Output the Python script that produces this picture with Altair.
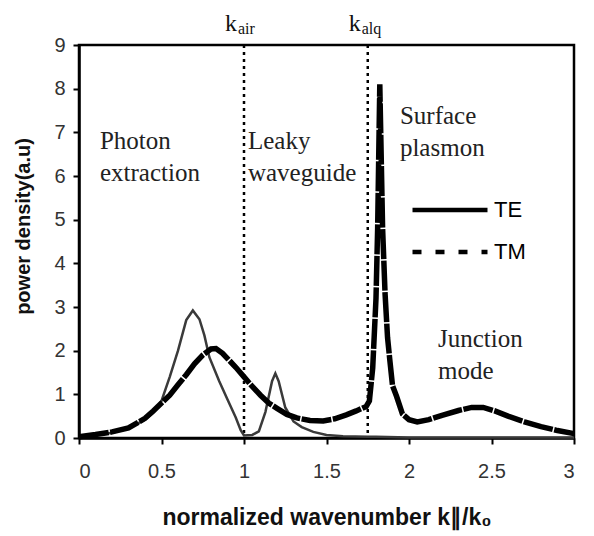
import altair as alt
import pandas as pd

# TE curve (thin solid)
te_x = [0.00, 0.10, 0.20, 0.30, 0.40, 0.45, 0.50, 0.55, 0.60, 0.65, 0.69, 0.73, 0.76, 0.79,
        0.85, 0.90, 0.95, 0.98, 1.00, 1.05, 1.09, 1.13, 1.17, 1.19, 1.21, 1.25, 1.30, 1.35,
        1.42, 1.50, 1.60, 1.75, 1.80, 2.00, 2.50, 3.00]
te_y = [0.02, 0.06, 0.12, 0.22, 0.42, 0.58, 0.85, 1.40, 2.00, 2.70, 2.92, 2.72, 2.35, 1.85,
        1.30, 0.88, 0.47, 0.18, 0.06, 0.07, 0.15, 0.60, 1.30, 1.48, 1.30, 0.70, 0.38, 0.25,
        0.14, 0.07, 0.04, 0.03, 0.03, 0.01, 0.01, 0.01]

# TM curve (thick dashed)
tm_x = [0.00, 0.10, 0.20, 0.30, 0.40, 0.45, 0.50, 0.55, 0.60, 0.65, 0.70, 0.75, 0.80, 0.83,
        0.87, 0.90, 0.95, 1.00, 1.05, 1.10, 1.15, 1.20, 1.26, 1.32, 1.40, 1.48, 1.55, 1.62,
        1.68, 1.74, 1.76, 1.78, 1.80, 1.81, 1.823, 1.84, 1.855, 1.87, 1.885, 1.90, 1.925,
        1.96, 2.00, 2.05, 2.12, 2.20, 2.30, 2.38, 2.45, 2.52, 2.60, 2.70, 2.80, 2.90, 3.00]
tm_y = [0.03, 0.08, 0.14, 0.23, 0.45, 0.62, 0.80, 0.98, 1.22, 1.45, 1.70, 1.90, 2.04, 2.05,
        1.94, 1.82, 1.62, 1.40, 1.18, 0.98, 0.80, 0.68, 0.54, 0.46, 0.40, 0.39, 0.44, 0.53,
        0.62, 0.72, 0.85, 1.60, 3.20, 4.80, 8.10, 4.80, 3.30, 2.30, 1.74, 1.20, 0.95,
        0.55, 0.42, 0.37, 0.42, 0.52, 0.63, 0.70, 0.70, 0.62, 0.50, 0.37, 0.26, 0.17, 0.10]

series_names = ["TE", "TM"]

# vertical reference lines
kline_x = [1.0, 1.75]
kline_sub = ["air", "alq"]
y_top = 9

# region annotations
ann_text = ["Photon\nextraction", "Leaky\nwaveguide", "Surface\nplasmon", "Junction\nmode"]
ann_x = [0.127, 1.024, 1.945, 2.176]
ann_y = [6.62, 6.62, 7.19, 2.08]

x_ticks = [0, 0.5, 1, 1.5, 2, 2.5, 3]
y_ticks = [0, 1, 2, 3, 4, 5, 6, 7, 8, 9]

te_df = pd.DataFrame({"k": te_x, "p": te_y, "series": "TE"})
tm_df = pd.DataFrame({"k": tm_x, "p": tm_y, "series": "TM"})
all_df = pd.concat([te_df, tm_df], ignore_index=True)
kl_df = pd.DataFrame({"k": kline_x, "sub": kline_sub, "top": y_top})
ann_df = pd.DataFrame({"text": ann_text, "k": ann_x, "p": ann_y})

xs = alt.Scale(domain=[0, 3], nice=False, zero=False)
ys = alt.Scale(domain=[0, 9], nice=False)

x_enc = alt.X("k:Q", scale=xs, axis=alt.Axis(
    values=x_ticks, format="~g", title="normalized wavenumber k\u2225/k\u2080",
    titleY=86, titleBaseline="alphabetic", grid=False))
y_enc = alt.Y("p:Q", scale=ys, axis=alt.Axis(
    values=y_ticks, title="power density(a.u)", titleX=-50, titleY=181,
    titleBaseline="alphabetic", grid=False))

te_line = alt.Chart(te_df).mark_line(color="#3a3a3a", strokeWidth=2.5).encode(x=x_enc, y=y_enc)
tm_line = alt.Chart(tm_df).mark_line(color="black", strokeWidth=5.5, strokeDash=[30, 1.5]).encode(x="k:Q", y="p:Q")

legend_layer = alt.Chart(all_df).transform_filter("false").mark_line(
    color="black", strokeWidth=4.5).encode(
    x="k:Q", y="p:Q",
    strokeDash=alt.StrokeDash("series:N", scale=alt.Scale(domain=series_names, range=[[1, 0], [9, 14]]),
                              legend=alt.Legend(title=None, orient="none", legendX=331, legendY=146,
                                                symbolType="stroke", symbolSize=5625,
                                                symbolStrokeWidth=4.5, symbolStrokeColor="black",
                                                labelFontSize=22, labelFont="Liberation Sans",
                                                labelColor="black", labelOffset=4,
                                                clipHeight=38, rowPadding=4)))

klines = alt.Chart(kl_df).mark_rule(color="black", strokeWidth=2.5, strokeDash=[3, 4]).encode(x="k:Q")

k_main = alt.Chart(kl_df).mark_text(text="k", font="Liberation Serif", fontSize=24, align="right",
                                    baseline="alphabetic", dx=-7, dy=-14, color="#111").encode(
    x="k:Q", y="top:Q")
k_sub = alt.Chart(kl_df).mark_text(font="Liberation Serif", fontSize=16, align="left",
                                   baseline="alphabetic", dx=-6, dy=-11, color="#111").encode(
    x="k:Q", y="top:Q", text="sub:N")

ann = alt.Chart(ann_df).mark_text(font="Liberation Serif", fontSize=25, align="left",
                                  baseline="alphabetic", lineBreak="\n", lineHeight=32,
                                  color="#222").encode(x="k:Q", y="p:Q", text="text:N")

chart = alt.layer(klines, te_line, tm_line, legend_layer, ann, k_main, k_sub).properties(
    width=495, height=393,
    autosize=alt.AutoSizeParams(type="none"),
    padding={"left": 71, "top": 37, "right": 10, "bottom": 94},
).configure_view(stroke="black", strokeWidth=2.5).configure_axis(
    domainColor="black", domainWidth=2.5, tickColor="black", tickWidth=2, tickSize=6,
    labelFont="Liberation Sans", labelFontSize=20, labelColor="#333",
    titleFont="Liberation Sans", titleFontSize=23, titleFontWeight="bold", titleColor="#111",
).configure_axisX(labelPadding=17).configure_axisY(labelPadding=8, titleFontSize=20)

chart.save("out.html", embed_options={"renderer": "svg", "actions": False})
